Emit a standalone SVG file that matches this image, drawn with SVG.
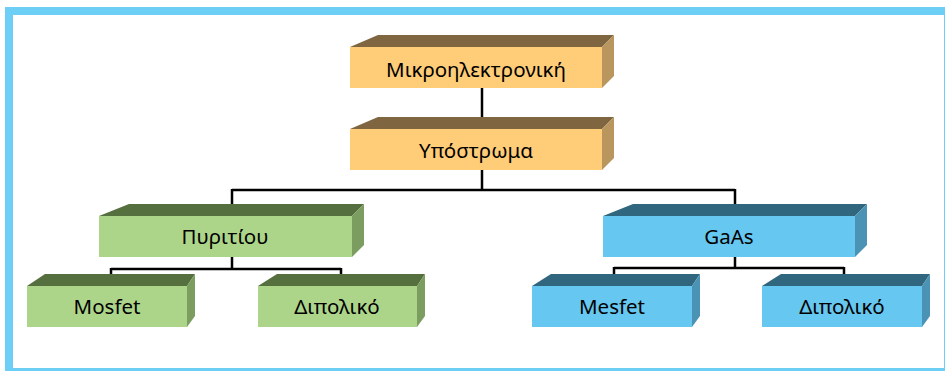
<svg xmlns="http://www.w3.org/2000/svg" width="945" height="371" viewBox="0 0 945 371">
<style>
.t{font-family:"Noto Sans","Open Sans","DejaVu Sans",sans-serif;font-size:20.5px;fill:#000;text-anchor:middle}
.c{stroke:#000;stroke-width:2.5;fill:none}
.of{fill:#FFCC77}.ot{fill:#806640}.os{fill:#B8965E}
.gf{fill:#ADD58A}.gt{fill:#566F3E}.gs{fill:#7B9D5F}
.bf{fill:#66C7F0}.bt{fill:#31667F}.bs{fill:#4A93B5}
</style>
<rect x="0" y="0" width="945" height="371" fill="#fff"/>
<rect x="9" y="11" width="939" height="361" fill="none" stroke="#6dcff6" stroke-width="8"/>
<g id="connectors">
<path class="c" d="M482,88V129"/>
<path class="c" d="M482,170V190M232,190H735M232,189V208M735,189V208"/>
<path class="c" d="M232,257V269M111,269H341M111,268V280M341,268V280"/>
<path class="c" d="M735,257V268M614,268H844M614,267V280M844,267V280"/>
</g>
<g id="n1">
<polygon class="ot" points="350,47 378,35 614,35 602,47"/>
<polygon class="os" points="602,47 614,35 614,76 602,88"/>
<rect class="of" x="350" y="47" width="252" height="41"/>
<text class="t" x="476" y="77">Μικροηλεκτρονική</text>
</g>
<g id="n2">
<polygon class="ot" points="350,129 378,117 614,117 602,129"/>
<polygon class="os" points="602,129 614,117 614,158 602,170"/>
<rect class="of" x="350" y="129" width="252" height="41"/>
<text class="t" x="476" y="158">Υπόστρωμα</text>
</g>
<g id="n3">
<polygon class="gt" points="99,216 129,204 364,204 352,216"/>
<polygon class="gs" points="352,216 364,204 364,245 352,257"/>
<rect class="gf" x="99" y="216" width="253" height="41"/>
<text class="t" x="225" y="244">Πυριτίου</text>
</g>
<g id="n4">
<polygon class="bt" points="603,216 633,204 867,204 855,216"/>
<polygon class="bs" points="855,216 867,204 867,245 855,257"/>
<rect class="bf" x="603" y="216" width="252" height="41"/>
<text class="t" x="729" y="244">GaAs</text>
</g>
<g id="n5">
<polygon class="gt" points="27,286 45,274 195,274 187,286"/>
<polygon class="gs" points="187,286 195,274 195,316 187,327"/>
<rect class="gf" x="27" y="286" width="160" height="41"/>
<text class="t" x="107" y="314">Mosfet</text>
</g>
<g id="n6">
<polygon class="gt" points="258,286 277,274 425,274 417,286"/>
<polygon class="gs" points="417,286 425,274 425,316 417,327"/>
<rect class="gf" x="258" y="286" width="159" height="41"/>
<text class="t" x="337" y="314">Διπολικό</text>
</g>
<g id="n7">
<polygon class="bt" points="532,286 551,274 700,274 692,286"/>
<polygon class="bs" points="692,286 700,274 700,316 692,327"/>
<rect class="bf" x="532" y="286" width="160" height="41"/>
<text class="t" x="612" y="314">Mesfet</text>
</g>
<g id="n8">
<polygon class="bt" points="762,286 781,274 930,274 922,286"/>
<polygon class="bs" points="922,286 930,274 930,316 922,327"/>
<rect class="bf" x="762" y="286" width="160" height="41"/>
<text class="t" x="842" y="314">Διπολικό</text>
</g>
</svg>
